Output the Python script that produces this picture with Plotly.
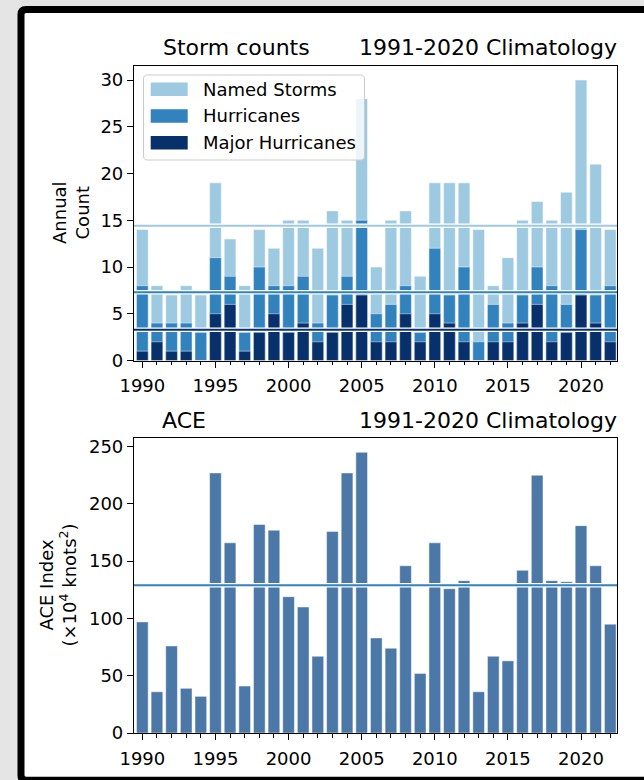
import plotly.graph_objects as go

# ---------------- data ----------------
years = list(range(1990, 2023))
named_storms = [14, 8, 7, 8, 7, 19, 13, 8, 14, 12, 15, 15, 12, 16, 15, 28, 10,
                15, 16, 9, 19, 19, 19, 14, 8, 11, 15, 17, 15, 18, 30, 21, 14]
hurricanes = [8, 4, 4, 4, 3, 11, 9, 3, 10, 8, 8, 9, 4, 7, 9, 15, 5,
              6, 8, 3, 12, 7, 10, 2, 6, 4, 7, 10, 8, 6, 14, 7, 8]
major_hurricanes = [1, 2, 1, 1, 0, 5, 6, 1, 3, 5, 3, 4, 2, 3, 6, 7, 2,
                    2, 5, 2, 5, 4, 2, 0, 2, 2, 4, 6, 2, 3, 7, 4, 2]
ace = [97, 36, 76, 39, 32, 227, 166, 41, 182, 177, 119, 110, 67, 176, 227, 245, 83,
       74, 146, 52, 166, 126, 133, 36, 67, 63, 142, 225, 133, 132, 181, 146, 95]
series_names = ["Named Storms", "Hurricanes", "Major Hurricanes"]
clim_counts = [14.4, 7.3, 3.3]
clim_ace = 129
x_ticks = [1990, 1995, 2000, 2005, 2010, 2015, 2020]
count_ticks = [0, 5, 10, 15, 20, 25, 30]
ace_ticks = [0, 50, 100, 150, 200, 250]

# ---------------- style ----------------
FONT = "DejaVu Sans"
colors = ["#9ecae1", "#3182bd", "#08306b"]
ace_color = "#4c78a8"
ace_line_color = "#3182bd"
W_FIG, H_FIG = 644, 780
L, R, T, B = 134, 617, 66, 733
PW, PH = R - L, B - T


def px(x):
    return (x - L) / PW


def py(y):
    return (B - y) / PH


def path_of(cmds):
    s = ""
    for cmd, cs in cmds:
        s += cmd + " ".join(f"{px(a):.5f},{py(b):.5f}" for a, b in cs) + " "
    return s


def rrect(x0, y0, x1, y1, r):
    return path_of([
        ("M", [(x0 + r, y0)]), ("L", [(x1 - r, y0)]), ("Q", [(x1, y0), (x1, y0 + r)]),
        ("L", [(x1, y1 - r)]), ("Q", [(x1, y1), (x1 - r, y1)]), ("L", [(x0 + r, y1)]),
        ("Q", [(x0, y1), (x0, y1 - r)]), ("L", [(x0, y0 + r)]), ("Q", [(x0, y0), (x0 + r, y0)]),
    ]) + "Z"


fig = go.Figure()

edge = dict(color="rgba(255,255,255,0.6)", width=0.8)
for name, vals, col in zip(series_names, [named_storms, hurricanes, major_hurricanes], colors):
    fig.add_trace(go.Bar(x=years, y=vals, name=name, width=0.8, opacity=1,
                         marker=dict(color=col, line=edge),
                         xaxis="x", yaxis="y", showlegend=False))

fig.add_trace(go.Bar(x=years, y=ace, name="ACE", width=0.8,
                     marker=dict(color=ace_color, line=edge),
                     xaxis="x2", yaxis="y2", showlegend=False))

shapes = []
# background frame: white panel, then open black border (left, top, bottom only)
shapes.append(dict(type="rect", xref="paper", yref="paper", layer="below",
                   x0=px(21), x1=px(660), y0=py(790), y1=py(9.5),
                   fillcolor="white", line=dict(width=0)))
FX0, FY0, FY1, RAD = 21, 9.5, 780.3, 5
shapes.append(dict(type="path", xref="paper", yref="paper", layer="below",
                   path=path_of([("M", [(660, FY0)]), ("L", [(FX0 + RAD, FY0)]),
                                 ("Q", [(FX0, FY0), (FX0, FY0 + RAD)]),
                                 ("L", [(FX0, FY1 - RAD)]),
                                 ("Q", [(FX0, FY1), (FX0 + RAD, FY1)]),
                                 ("L", [(660, FY1)])]),
                   line=dict(color="black", width=7)))

# climatology lines
for val, col in zip(clim_counts, colors):
    shapes.append(dict(type="line", xref="x domain", yref="y", x0=0, x1=1, y0=val, y1=val,
                       layer="above", line=dict(color="white", width=4.5)))
    shapes.append(dict(type="line", xref="x domain", yref="y", x0=0, x1=1, y0=val, y1=val,
                       layer="above", line=dict(color=col, width=2)))
shapes.append(dict(type="line", xref="x2 domain", yref="y2", x0=0, x1=1, y0=clim_ace, y1=clim_ace,
                   layer="above", line=dict(color="white", width=4.5)))
shapes.append(dict(type="line", xref="x2 domain", yref="y2", x0=0, x1=1, y0=clim_ace, y1=clim_ace,
                   layer="above", line=dict(color=ace_line_color, width=2)))

# manual legend
shapes.append(dict(type="path", xref="paper", yref="paper", layer="above",
                   path=rrect(143.5, 75, 364.5, 160, 4),
                   fillcolor="rgba(255,255,255,0.8)", line=dict(color="#cccccc", width=1)))
annotations = []
row_y = [89.3, 116.0, 142.7]
for name, col, yy in zip(series_names, colors, row_y):
    shapes.append(dict(type="rect", xref="paper", yref="paper", layer="above",
                       x0=px(150.7), x1=px(187.7), y0=py(yy - 6.7), y1=py(yy + 6.7),
                       fillcolor=col, line=dict(width=0)))
    annotations.append(dict(text=name, xref="paper", yref="paper", x=px(201), y=py(yy),
                            xanchor="left", yanchor="middle", showarrow=False,
                            font=dict(family=FONT, size=18, color="black")))

# titles
title_font = dict(family=FONT, size=22, color="black")
for txt, xx, anchor, yy in [("Storm counts", 161, "left", 47.5),
                            ("1991-2020 Climatology", 619, "right", 47.5),
                            ("ACE", 160, "left", 420.2),
                            ("1991-2020 Climatology", 619, "right", 420.2)]:
    annotations.append(dict(text=txt, xref="paper", yref="paper", x=px(xx), y=py(yy),
                            xanchor=anchor, yanchor="middle", showarrow=False, font=title_font))

# y-axis titles
for txt, xx, yy in [("Annual<br>Count", 71, 213),
                    ("ACE Index<br>(×10<sup>4</sup> knots<sup>2</sup>)", 57, 585.5)]:
    annotations.append(dict(text=txt, xref="paper", yref="paper", x=px(xx), y=py(yy),
                            xanchor="center", yanchor="middle", showarrow=False, textangle=-90,
                            font=dict(family=FONT, size=18, color="black")))

axis_common = dict(showline=True, linecolor="black", linewidth=1.2, mirror=True,
                   showgrid=False, zeroline=False, ticks="outside", ticklen=6,
                   tickwidth=1.2, tickcolor="black",
                   tickfont=dict(family=FONT, size=18, color="black"))
x_common = dict(axis_common, range=[1989.43, 2022.46], tickmode="array", tickvals=x_ticks,
                ticklabelstandoff=3,
                minor=dict(tickmode="array", tickvals=years, ticks="outside", ticklen=3.5,
                           tickwidth=1, tickcolor="black", showgrid=False))

fig.update_layout(
    width=W_FIG, height=H_FIG,
    margin=dict(l=L, r=W_FIG - R, t=T, b=H_FIG - B, pad=0),
    paper_bgcolor="#e5e5e5", plot_bgcolor="rgba(0,0,0,0)",
    barmode="overlay", showlegend=False,
    font=dict(family=FONT, size=18, color="black"),
    xaxis=dict(x_common, domain=[0, 1], anchor="y"),
    yaxis=dict(axis_common, domain=[py(360.5), 1], range=[0, 31.5],
               tickmode="array", tickvals=count_ticks, anchor="x"),
    xaxis2=dict(x_common, domain=[0, 1], anchor="y2"),
    yaxis2=dict(axis_common, domain=[0, py(438.3)], range=[0, 257.25],
                tickmode="array", tickvals=ace_ticks, anchor="x2"),
    shapes=shapes, annotations=annotations,
)

fig.write_html("out.html",
               config={"displayModeBar": False},
               post_script="document.body.style.margin='0px';"
                           "document.body.style.overflow='hidden';"
                           "document.body.style.background='#e5e5e5';")
